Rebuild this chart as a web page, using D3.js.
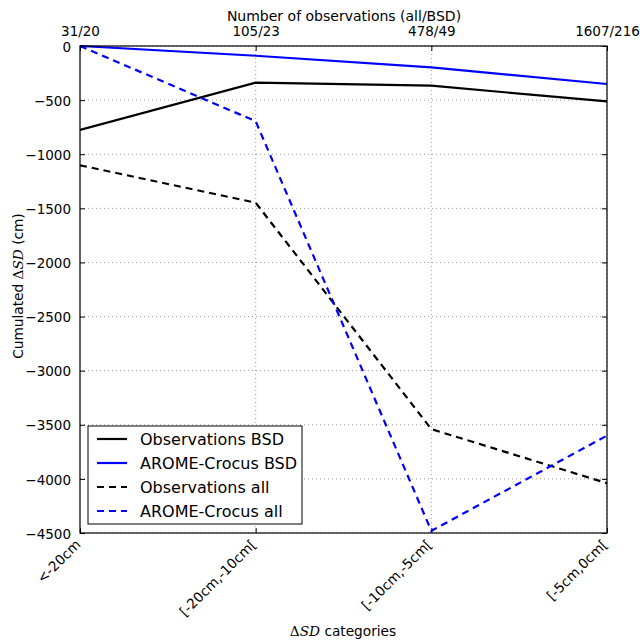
<!DOCTYPE html>
<html><head><meta charset="utf-8">
<script src="https://cdn.jsdelivr.net/npm/d3@7"></script>
<style>body{margin:0;background:#fff;} text{font-family:"DejaVu Sans",sans-serif;fill:#000;}</style>
</head><body>
<svg id="c" width="640" height="642"></svg>
<script>
const categories = ["<-20cm", "[-20cm,-10cm[", "[-10cm,-5cm[", "[-5cm,0cm["];
const topLabels = ["31/20", "105/23", "478/49", "1607/216"];
const obsBSD = [-776, -339, -367, -512];
const aromeBSD = [0, -90, -198, -351];
const obsAll = [-1102, -1448, -3540, -4040];
const aromeAll = [0, -695, -4480, -3600];
const yTicks = [0, -500, -1000, -1500, -2000, -2500, -3000, -3500, -4000, -4500];
const seriesNames = ["Observations BSD", "AROME-Crocus BSD", "Observations all", "AROME-Crocus all"];
const seriesColors = ["#000", "#0000ff", "#000", "#0000ff"];
const seriesDash = [null, null, "7,5", "7,5"];

const L = 80, R = 607, T = 46, B = 533;
const svg = d3.select("#c");
const x = d3.scalePoint().domain(categories).range([L, R]);
const y = d3.scaleLinear().domain([-4500, 0]).range([B, T]);

// grid
const g = svg.append("g");
g.selectAll("line.gy").data(yTicks).enter().append("line")
  .attr("x1", L).attr("x2", R).attr("y1", d => y(d)).attr("y2", d => y(d))
  .attr("stroke", "#999").attr("stroke-width", 1).attr("stroke-dasharray", "1,3");
g.selectAll("line.gx").data(categories).enter().append("line")
  .attr("x1", d => x(d)).attr("x2", d => x(d)).attr("y1", T).attr("y2", B)
  .attr("stroke", "#999").attr("stroke-width", 1).attr("stroke-dasharray", "1,3");

// axes
const fmt = d => d < 0 ? "\u2212" + Math.abs(d) : String(d);
const ay = svg.append("g").attr("transform", `translate(${L},0)`)
  .call(d3.axisLeft(y).tickValues(yTicks).tickFormat(fmt).tickSizeInner(-5).tickSizeOuter(0).tickPadding(9));
const ayr = svg.append("g").attr("transform", `translate(${R},0)`)
  .call(d3.axisRight(y).tickValues(yTicks).tickFormat("").tickSizeInner(-5).tickSizeOuter(0));
const ax = svg.append("g").attr("transform", `translate(0,${B})`)
  .call(d3.axisBottom(x).tickFormat("").tickSizeInner(-5).tickSizeOuter(0));
const topScale = d3.scalePoint().domain(topLabels).range([L, R]);
const at = svg.append("g").attr("transform", `translate(0,${T})`)
  .call(d3.axisTop(topScale).tickSizeInner(-5).tickSizeOuter(0).tickPadding(10));
[ay, ayr, ax, at].forEach(a => {
  a.select(".domain").remove();
  a.selectAll("line").attr("stroke", "#000");
  a.selectAll("text").attr("font-size", 13.5).attr("font-family", "DejaVu Sans");
});
at.selectAll("text").attr("dy", "0em");
ay.selectAll("text").attr("dy", "0.38em");

// rotated bottom labels
svg.append("g").selectAll("text").data(categories).enter().append("text")
  .attr("transform", d => `translate(${x(d) - 2},${B + 9}) rotate(-45)`)
  .attr("text-anchor", "end").attr("font-size", 13.7).attr("dy", "0.35em")
  .text(d => d);

// lines
const data = [obsBSD, aromeBSD, obsAll, aromeAll];
const line = d3.line().x((d, i) => x(categories[i])).y(d => y(d));
svg.append("clipPath").attr("id", "clp").append("rect")
  .attr("x", L).attr("y", T - 1).attr("width", R - L).attr("height", B - T + 2);
data.forEach((s, k) => {
  svg.append("path").datum(s).attr("d", line).attr("fill", "none")
    .attr("stroke", seriesColors[k]).attr("stroke-width", 2.2)
    .attr("stroke-dasharray", seriesDash[k]).attr("clip-path", "url(#clp)");
});

// frame
svg.append("rect").attr("x", L).attr("y", T).attr("width", R - L).attr("height", B - T)
  .attr("fill", "none").attr("stroke", "#000").attr("stroke-width", 1.2);

// titles
svg.append("text").attr("x", 344).attr("y", 21).attr("text-anchor", "middle")
  .attr("font-size", 14).text("Number of observations (all/BSD)");
const yl = svg.append("text").attr("transform", `translate(23,286) rotate(-90)`)
  .attr("text-anchor", "middle").attr("font-size", 13.7);
yl.append("tspan").text("Cumulated ");
yl.append("tspan").attr("font-family", "DejaVu Serif").text("\u0394");
yl.append("tspan").attr("font-family", "DejaVu Serif").attr("font-style", "italic").text("SD");
yl.append("tspan").text(" (cm)");
const xl = svg.append("text").attr("x", 343).attr("y", 636).attr("text-anchor", "middle").attr("font-size", 13.7);
xl.append("tspan").attr("font-family", "DejaVu Serif").text("\u0394");
xl.append("tspan").attr("font-family", "DejaVu Serif").attr("font-style", "italic").text("SD");
xl.append("tspan").text(" categories");

// legend
const lg = svg.append("g");
lg.append("rect").attr("x", 88).attr("y", 426).attr("width", 214).attr("height", 98)
  .attr("fill", "#fff").attr("stroke", "#000").attr("stroke-width", 1);
seriesNames.forEach((n, k) => {
  const yy = 439 + k * 24;
  lg.append("line").attr("x1", 97).attr("x2", 127).attr("y1", yy).attr("y2", yy)
    .attr("stroke", seriesColors[k]).attr("stroke-width", 2.2).attr("stroke-dasharray", seriesDash[k]);
  lg.append("text").attr("x", 140).attr("y", yy).attr("dy", "0.35em").attr("font-size", 16).text(n);
});
</script>
</body></html>
